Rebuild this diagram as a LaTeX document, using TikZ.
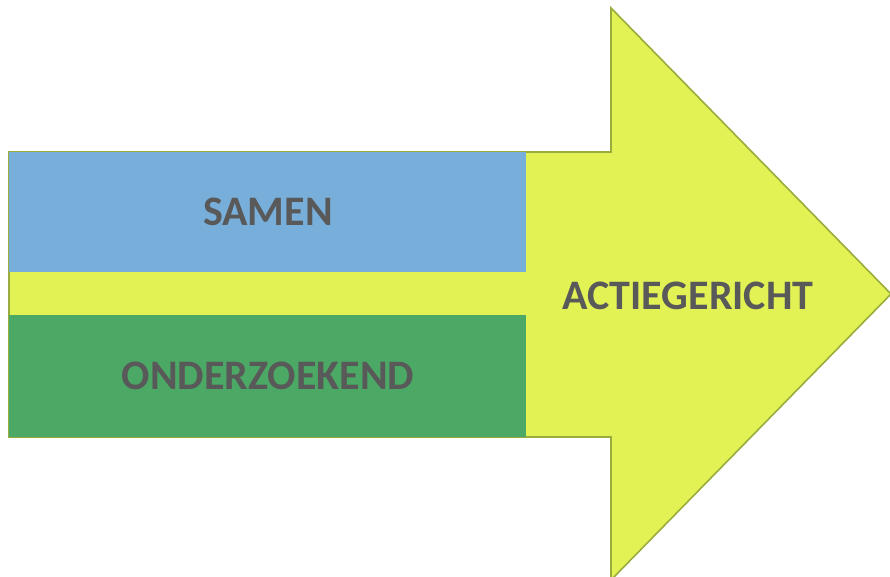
\documentclass[tikz,border=0pt]{standalone}
\usepackage{fontspec}
\setmainfont{Carlito}
\definecolor{arrowfill}{HTML}{E2F255}
\definecolor{arrowline}{HTML}{9AAD3C}
\definecolor{bluefill}{HTML}{78AEDA}
\definecolor{greenfill}{HTML}{4BA865}
\definecolor{txt}{HTML}{595959}
\begin{document}
\begin{tikzpicture}[x=1pt,y=-1pt,
  lbl/.style={font=\fontsize{42}{48}\selectfont\bfseries, text=txt, inner sep=0pt},
  band/.style={inner sep=0pt, outer sep=0pt}]
\useasboundingbox (0,0) rectangle (890,577);
\clip (0,0) rectangle (890,577);
\fill[white] (0,0) rectangle (890,577);
\draw[fill=arrowfill, draw=arrowline, line width=1.6pt, line join=miter]
  (9,152) -- (611,152) -- (611,8) -- (891,294) -- (611,580) -- (611,437) -- (9,437) -- cycle;
\node[band, fill=bluefill, minimum width=517pt, minimum height=120pt, anchor=north west] (samen) at (9,152) {};
\node[band, fill=greenfill, minimum width=517pt, minimum height=122pt, anchor=north west] (onder) at (9,315) {};
\node[lbl] (t1) at (268,212) {SAMEN};
\node[lbl] (t2) at (268,376) {ONDERZOEKEND};
\node[lbl] (t3) at (688,296) {ACTIEGERICHT};
\end{tikzpicture}
\end{document}
